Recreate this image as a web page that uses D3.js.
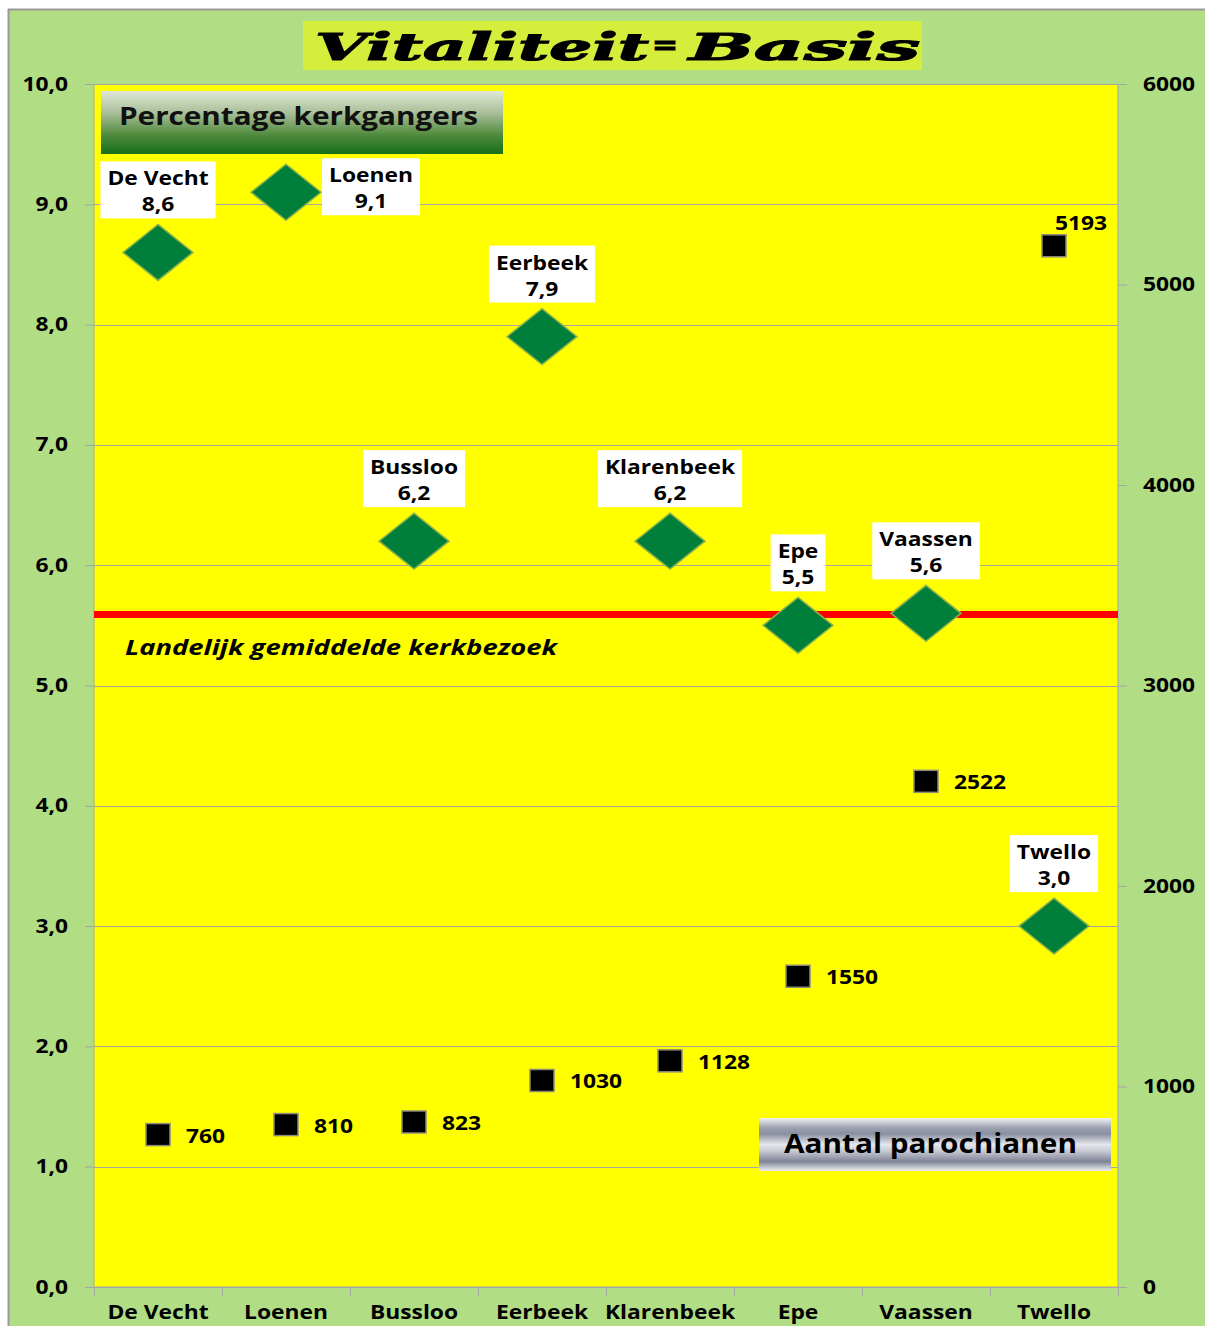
<!DOCTYPE html>
<html><head><meta charset="utf-8">
<script src="https://cdn.jsdelivr.net/npm/d3@7"></script>
<style>
html,body{margin:0;padding:0;background:#fff;}
svg text{font-family:"Open Sans","Noto Sans",sans-serif;font-weight:bold;}
</style></head>
<body>
<svg id="chart" width="1205" height="1326"></svg>
<script>
// ---- data ----
const categories = ["De Vecht","Loenen","Bussloo","Eerbeek","Klarenbeek","Epe","Vaassen","Twello"];
const percentValues = [8.6, 9.1, 6.2, 7.9, 6.2, 5.5, 5.6, 3.0];
const parishioners = [760, 810, 823, 1030, 1128, 1550, 2522, 5193];
const nationalAverage = 5.59;
const leftTicks = [0,1,2,3,4,5,6,7,8,9,10];
const rightTicks = [0,1000,2000,3000,4000,5000,6000];
const percentLabelPlacement = ["above","right","above","above","above","above","above","above"];
const countLabelPlacement = ["right","right","right","right","right","right","right","above"];
const titleParts = ["Vitaliteit", "=", "Basis"];
const legendPercent = "Percentage kerkgangers";
const legendCount = "Aantal parochianen";
const averageText = "Landelijk gemiddelde  kerkbezoek";

// ---- helpers ----
const STRETCH = 1.2;
function stretch(sel, k) {
  sel.each(function(){
    const L = this.getComputedTextLength();
    d3.select(this).attr("textLength", L*k).attr("lengthAdjust","spacingAndGlyphs");
  });
}

// ---- layout ----
const svg = d3.select("#chart");
const P = {left:94, right:1118, top:84, bottom:1287};

svg.append("rect").attr("x",8).attr("y",9).attr("width",1205-8).attr("height",1326-9).attr("fill","#b1dd85");
svg.append("line").attr("x1",8).attr("x2",1205).attr("y1",9.5).attr("y2",9.5).attr("stroke","#9a9a9a").attr("stroke-width",2);
svg.append("line").attr("x1",8.5).attr("x2",8.5).attr("y1",9).attr("y2",1326).attr("stroke","#9a9a9a").attr("stroke-width",2);

const defs = svg.append("defs");
const gGreen = defs.append("linearGradient").attr("id","gGreen").attr("x1",0).attr("y1",0).attr("x2",0).attr("y2",1);
[[0,"#dfe7d6"],[0.35,"#a9bf98"],[0.7,"#4f8a3c"],[1,"#16701a"]].forEach(s=>gGreen.append("stop").attr("offset",s[0]).attr("stop-color",s[1]));
const gMetal = defs.append("linearGradient").attr("id","gMetal").attr("x1",0).attr("y1",0).attr("x2",0).attr("y2",1);
[[0,"#f4f4f6"],[0.18,"#9ea3b3"],[0.3,"#8a8fa0"],[0.5,"#e6e7ec"],[0.62,"#c9cbd4"],[0.82,"#7f8496"],[1,"#eeeef2"]].forEach(s=>gMetal.append("stop").attr("offset",s[0]).attr("stop-color",s[1]));

// title
svg.append("rect").attr("x",303).attr("y",21).attr("width",619).attr("height",49).attr("fill","#d5ee3c");
const titleLayout = [{x:315, len:334, size:38, y:60}, {x:652, len:26, size:26, y:54}, {x:689, len:231, size:38, y:60}];
titleParts.forEach((t,i)=>{
  const L = titleLayout[i];
  svg.append("text").attr("x",L.x).attr("y",L.y).text(t)
    .style("font-family","'DejaVu Serif',serif").style("font-weight","bold").style("font-style","italic")
    .style("font-size",L.size+"px").attr("textLength",L.len).attr("lengthAdjust","spacingAndGlyphs")
    .attr("fill","#000").attr("stroke","#000").attr("stroke-width",1.2);
});

// scales
const x = d3.scaleBand().domain(categories).range([P.left,P.right]).padding(0);
const yL = d3.scaleLinear().domain([0,10]).range([P.bottom,P.top]);
const yR = d3.scaleLinear().domain([0,6000]).range([P.bottom,P.top]);

svg.append("rect").attr("x",P.left).attr("y",P.top).attr("width",P.right-P.left).attr("height",P.bottom-P.top).attr("fill","#ffff00");

svg.append("g").selectAll("line").data(leftTicks).join("line")
  .attr("x1",P.left).attr("x2",P.right).attr("y1",d=>Math.round(yL(d))+0.5).attr("y2",d=>Math.round(yL(d))+0.5)
  .attr("stroke","#a6a6a6").attr("stroke-width",1);

const axL = svg.append("g").attr("transform",`translate(${P.left},0)`)
  .call(d3.axisLeft(yL).tickValues(leftTicks).tickSize(9).tickPadding(17).tickFormat(d=>d3.format(".1f")(d).replace(".",",")));
const axR = svg.append("g").attr("transform",`translate(${P.right},0)`)
  .call(d3.axisRight(yR).tickValues(rightTicks).tickSize(9).tickPadding(16).tickFormat(d3.format("d")));
const axB = svg.append("g").attr("transform",`translate(0,${P.bottom})`)
  .call(d3.axisBottom(x).tickSize(0).tickPadding(28));
svg.append("g").selectAll("line").data(d3.range(categories.length+1)).join("line")
  .attr("x1",i=>Math.round(P.left+i*x.bandwidth())+0.5).attr("x2",i=>Math.round(P.left+i*x.bandwidth())+0.5)
  .attr("y1",P.bottom).attr("y2",P.bottom+9).attr("stroke","#a6a6a6");

[axL,axR,axB].forEach(a=>{
  a.selectAll(".domain").attr("stroke","#a6a6a6");
  a.selectAll(".tick line").attr("stroke","#a6a6a6");
  a.selectAll("text").attr("fill","#000").style("font-size","19px").style("font-weight","bold").style("font-family","'Open Sans',sans-serif");
});
axL.select(".domain").attr("d",`M0,${P.top}V${P.bottom}`);
axR.select(".domain").attr("d",`M0,${P.top}V${P.bottom}`);
axB.select(".domain").attr("d",`M${P.left},0H${P.right}`);
axB.selectAll("text").attr("dy","0.2em");
stretch(axL.selectAll("text"), STRETCH);
stretch(axR.selectAll("text"), STRETCH);
stretch(axB.selectAll("text"), STRETCH);

// legend boxes
svg.append("rect").attr("x",101).attr("y",91).attr("width",402).attr("height",63).attr("fill","url(#gGreen)");
svg.append("text").attr("x",119).attr("y",125).text(legendPercent).style("font-size","25px").attr("fill","#111")
  .attr("textLength",359).attr("lengthAdjust","spacingAndGlyphs");
svg.append("rect").attr("x",759).attr("y",1118).attr("width",352).attr("height",53).attr("fill","url(#gMetal)");
svg.append("text").attr("x",784).attr("y",1153).text(legendCount).style("font-size","26px").attr("fill","#000")
  .attr("textLength",293).attr("lengthAdjust","spacingAndGlyphs");

// national average
svg.append("line").attr("x1",P.left).attr("x2",P.right).attr("y1",yL(nationalAverage)).attr("y2",yL(nationalAverage))
  .attr("stroke","#ff0000").attr("stroke-width",7);
svg.append("text").attr("x",125).attr("y",655).text(averageText)
  .style("font-size","21px").style("font-style","italic").attr("fill","#000")
  .attr("textLength",432).attr("lengthAdjust","spacingAndGlyphs");

// diamonds
const cx = c => x(c) + x.bandwidth()/2;
const DW = 35, DH = 28;
svg.append("g").selectAll("path").data(categories).join("path")
  .attr("d",(c,i)=>{const X=cx(c), Y=yL(percentValues[i]); return `M${X},${Y-DH}L${X+DW},${Y}L${X},${Y+DH}L${X-DW},${Y}Z`;})
  .attr("fill","#007f3a").attr("stroke","#8fb24a").attr("stroke-width",1.5);

// squares
svg.append("g").selectAll("rect").data(categories).join("rect")
  .attr("x",c=>cx(c)-12).attr("y",(c,i)=>yR(parishioners[i])-11).attr("width",24).attr("height",22)
  .attr("fill","#000").attr("stroke","#8c8c7a").attr("stroke-width",1.5);

// percent labels
categories.forEach((c,i)=>{
  const X = cx(c), Y = yL(percentValues[i]);
  const g = svg.append("g");
  const rect = g.append("rect").attr("fill","#fff");
  const t1 = g.append("text").text(c).attr("text-anchor","middle").style("font-size","19px").attr("fill","#000");
  const t2 = g.append("text").text(d3.format(".1f")(percentValues[i]).replace(".",",")).attr("text-anchor","middle").style("font-size","19px").attr("fill","#000");
  const w1 = t1.node().getComputedTextLength()*STRETCH, w2 = t2.node().getComputedTextLength()*STRETCH;
  stretch(t1, STRETCH); stretch(t2, STRETCH);
  const w = Math.max(w1, w2) + 14;
  const h = 57;
  let bx, by;
  if (percentLabelPlacement[i] === "right") { bx = X + 36; by = Y - 34; }
  else { bx = X - w/2; by = Y - 34 - h; }
  rect.attr("x",bx).attr("y",by).attr("width",w).attr("height",h);
  t1.attr("x",bx + w/2).attr("y",by + 24);
  t2.attr("x",bx + w/2).attr("y",by + 50);
});

// count labels
categories.forEach((c,i)=>{
  const X = cx(c), Y = yR(parishioners[i]);
  const t = svg.append("text").text(parishioners[i]).style("font-size","19px").attr("fill","#000");
  if (countLabelPlacement[i] === "above") t.attr("x",X+27).attr("y",Y-16).attr("text-anchor","middle");
  else t.attr("x",X+28).attr("y",Y+8);
  stretch(t, STRETCH);
});
</script>
</body></html>
